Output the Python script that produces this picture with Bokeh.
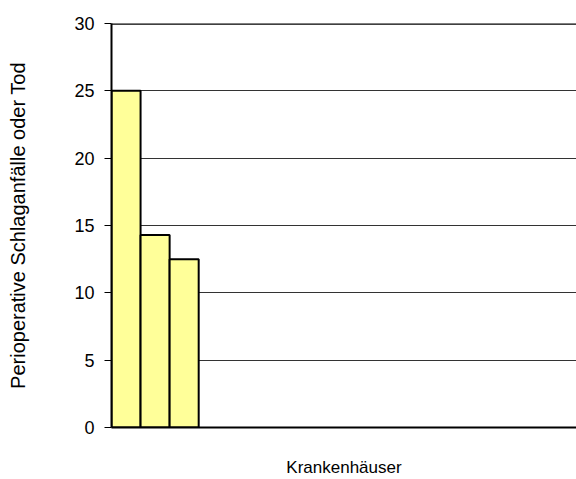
from bokeh.plotting import figure
from bokeh.models import Range1d, FixedTicker, Span
from bokeh.embed import file_html
from bokeh.resources import INLINE

# Data
n_hospitals = 16
hospital_index = [1, 2, 3]
values = [25, 14.3, 12.5]
y_ticks = [0, 5, 10, 15, 20, 25, 30]

x_centers = [i - 0.5 for i in hospital_index]

p = figure(width=576, height=479, output_backend="svg", toolbar_location=None,
           x_range=Range1d(0, n_hospitals), y_range=Range1d(0, 30),
           min_border_left=111, min_border_top=23, min_border_bottom=49,
           min_border_right=0)
p.outline_line_color = None
p.background_fill_color = "white"

p.vbar(x=x_centers, top=values, width=1.0, bottom=0,
       fill_color="#FFFF99", line_color="black", line_width=2)

# grid
p.xgrid.visible = False
p.ygrid.ticker = FixedTicker(ticks=y_ticks[1:-1])
p.ygrid.grid_line_color = "#333333"
p.ygrid.grid_line_width = 1
p.add_layout(Span(location=30, dimension="width", line_color="black", line_width=2.5))

# y axis
ya = p.yaxis[0]
ya.ticker = FixedTicker(ticks=y_ticks)
ya.axis_line_width = 2
ya.axis_line_color = "black"
ya.major_tick_out = 7
ya.major_tick_in = 0
ya.major_tick_line_color = "black"
ya.minor_tick_out = 0
ya.minor_tick_in = 0
ya.major_label_text_font = "Liberation Sans"
ya.major_label_text_font_size = "18px"
ya.major_label_text_color = "black"
ya.major_label_standoff = 10
ya.axis_label = "Perioperative Schlaganfälle oder Tod"
ya.axis_label_text_font = "Liberation Sans"
ya.axis_label_text_font_size = "20px"
ya.axis_label_text_font_style = "normal"
ya.axis_label_text_color = "black"
ya.axis_label_standoff = 42

# x axis
xa = p.xaxis[0]
xa.ticker = FixedTicker(ticks=[])
xa.axis_line_width = 2
xa.axis_line_color = "black"
xa.major_tick_out = 0
xa.major_tick_in = 0
xa.minor_tick_out = 0
xa.minor_tick_in = 0
xa.major_label_text_font_size = "0px"
xa.axis_label = "Krankenhäuser"
xa.axis_label_text_font = "Liberation Sans"
xa.axis_label_text_font_size = "17px"
xa.axis_label_text_font_style = "normal"
xa.axis_label_text_color = "black"
xa.axis_label_standoff = 30

open("out.html", "w").write(file_html(p, INLINE))
